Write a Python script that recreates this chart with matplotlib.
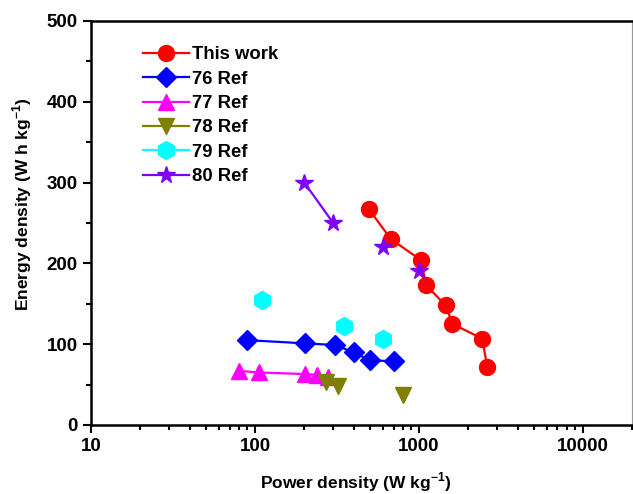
import matplotlib
matplotlib.use("Agg")
import matplotlib.pyplot as plt
from matplotlib.lines import Line2D
from matplotlib.ticker import LogLocator, FixedLocator, FixedFormatter, MultipleLocator, NullFormatter

plt.rcParams["font.family"] = ["Liberation Sans", "DejaVu Sans"]
plt.rcParams["font.weight"] = "bold"
plt.rcParams["mathtext.fontset"] = "custom"
plt.rcParams["mathtext.rm"] = "Liberation Sans:bold"
plt.rcParams["mathtext.bf"] = "Liberation Sans:bold"

# This work
work_p = [495, 675, 1030, 1105, 1455, 1600, 2430, 2610]
work_e = [267, 230, 204, 173, 148, 125, 107, 72]

# Ref 76
r76_p = [90, 202, 306, 400, 500, 700]
r76_e = [105, 101, 99, 90, 80, 79]

# Ref 77
r77_p = [80, 106, 202, 240, 280]
r77_e = [67, 65, 63, 62, 60]

# Ref 78
r78_p = [272, 322, 800]
r78_e = [53, 48, 37]

# Ref 79
r79_p = [110, 350, 600]
r79_e = [155, 122, 106]

# Ref 80 (first pair joined, last two as separate points)
r80a_p = [200, 300]
r80a_e = [300, 250]
r80b_p = [600, 1000]
r80b_e = [220, 190]

fig = plt.figure(figsize=(6.33, 4.94), dpi=100)
ax = fig.add_axes([0.1438, 0.1397, 0.855, 0.8178])

lw = 1.6
ax.plot(work_p, work_e, "-o", color="#FF0000", lw=lw, ms=11.5, label="This work")
ax.plot(r76_p, r76_e, "-D", color="#0000FF", lw=lw, ms=10, label="76 Ref")
ax.plot(r77_p, r77_e, "-^", color="#FF00FF", lw=lw, ms=12, label="77 Ref")
ax.plot(r78_p[:2], r78_e[:2], "-v", color="#808000", lw=lw, ms=12, label="78 Ref")
ax.plot(r78_p[2:], r78_e[2:], "v", color="#808000", ms=12)
ax.plot(r79_p, r79_e, "h", color="#00FFFF", ms=13, label="79 Ref")
ax.plot(r80a_p, r80a_e, "-*", color="#8000FF", lw=lw, ms=13, label="80 Ref")
ax.plot(r80b_p, r80b_e, "*", color="#8000FF", ms=13)

# legend handles drawn with lines for every entry
handles, labels = ax.get_legend_handles_labels()
handles = [Line2D([], [], color=h.get_color(), marker=h.get_marker(), lw=lw,
                  ms=h.get_markersize()) for h in handles]
ax.legend(handles, labels, loc="upper left", bbox_to_anchor=(0.075, 0.965),
          frameon=False, fontsize=13.3, handlelength=2.5, handletextpad=0.15,
          labelspacing=0.4, borderaxespad=0.2)

ax.set_xscale("log")
ax.set_xlim(10, 20000)
ax.set_ylim(0, 500)
ax.xaxis.set_major_locator(FixedLocator([10, 100, 1000, 10000]))
ax.xaxis.set_major_formatter(FixedFormatter(["10", "100", "1000", "10000"]))
ax.xaxis.set_minor_locator(LogLocator(base=10, subs=range(2, 10)))
ax.xaxis.set_minor_formatter(NullFormatter())
ax.yaxis.set_major_locator(MultipleLocator(100))
ax.yaxis.set_minor_locator(MultipleLocator(50))

ax.tick_params(which="both", direction="out", top=False, right=False,
               width=1.5, labelsize=13.5)
ax.tick_params(which="major", length=6)
ax.tick_params(which="minor", length=3.5)
for lbl in ax.get_xticklabels() + ax.get_yticklabels():
    lbl.set_fontweight("bold")

for side in ["left", "bottom", "top"]:
    ax.spines[side].set_linewidth(1.8)
ax.spines["right"].set_linewidth(0.8)
ax.spines["right"].set_color("#999999")

ax.set_xlabel(r"Power density (W kg$^{\mathbf{-1}}$)", fontsize=12.5, fontweight="bold")
ax.set_ylabel(r"Energy density (W h kg$^{\mathbf{-1}}$)", fontsize=12.5, fontweight="bold")
ax.yaxis.set_label_coords(-0.105, 0.547)
ax.xaxis.set_label_coords(0.49, -0.113)

fig.savefig("out.png", dpi=100)
